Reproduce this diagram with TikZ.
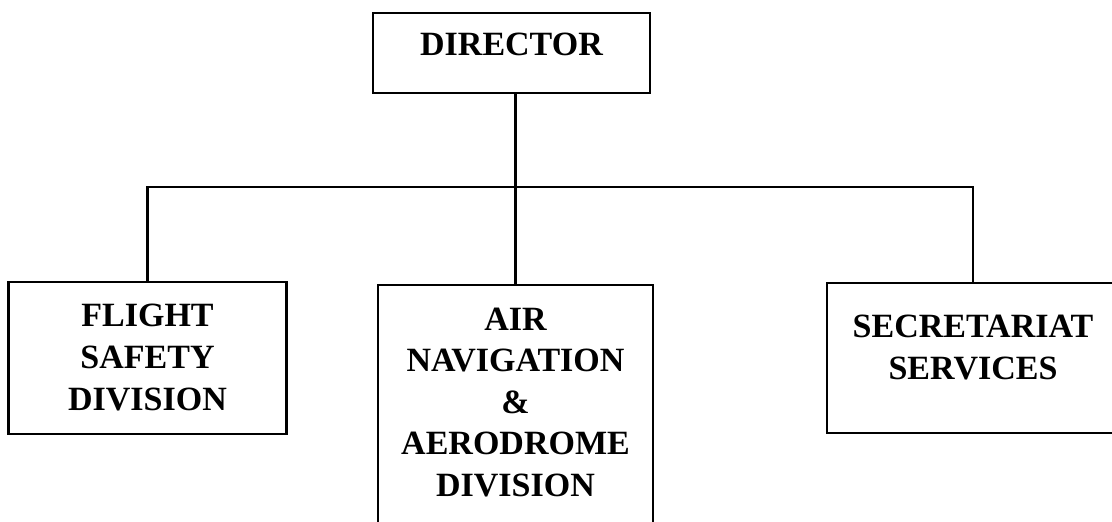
\documentclass[tikz,border=0pt]{standalone}
\usepackage{fontspec}
\setmainfont{Liberation Serif}
\usetikzlibrary{calc}
\tikzset{
  orgbox/.style={draw=black, line width=2.6bp, rectangle, inner sep=0pt, fill=none},
  link/.style={draw=black, line width=2.2bp}
}
\newcommand{\orgtext}[5]{\parbox[c][#2][t]{#1}{\centering\fontsize{34bp}{#4}\selectfont\bfseries\vspace*{#3}#5}}
\begin{document}
\begin{tikzpicture}[x=1bp,y=-1bp]
\useasboundingbox (0,0) rectangle (1112,522);
\fill[white] (0,0) rectangle (1112,522);
\node[orgbox] (dir) at (511.5,53) {\orgtext{277bp}{80bp}{20bp}{42bp}{DIRECTOR}};
\node[orgbox] (fsd) at (147.5,358) {\orgtext{278bp}{152bp}{22bp}{42bp}{FLIGHT\\SAFETY\\DIVISION}};
\node[orgbox] (and) at (515.5,415) {\orgtext{275bp}{260bp}{23bp}{41.5bp}{AIR\\NAVIGATION\\\&\\AERODROME\\DIVISION}};
\node[orgbox] (sec) at (973,358) {\orgtext{292bp}{150bp}{32bp}{42bp}{SECRETARIAT\\SERVICES}};
\coordinate (bus) at (0,187);
\draw[link] (and.north |- dir.south) -- (and.north);
\draw[link] (fsd.north) -- (fsd.north |- bus) -- (sec.north |- bus) -- (sec.north);
\end{tikzpicture}
\end{document}
